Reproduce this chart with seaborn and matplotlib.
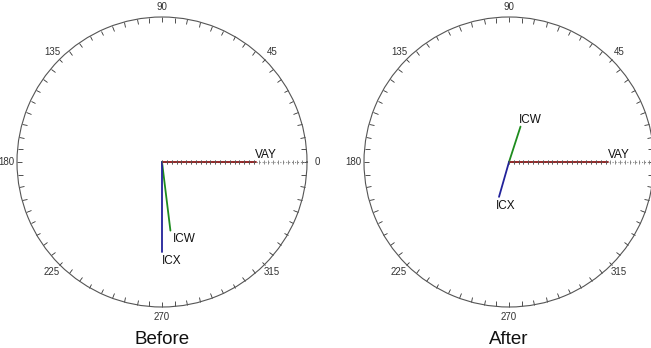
import numpy as np
import pandas as pd
import matplotlib
matplotlib.use("Agg")
import matplotlib.pyplot as plt
import seaborn as sns

sns.set_theme(style="white")
plt.rcParams['font.family'] = ['Liberation Sans', 'DejaVu Sans']

# ---- data (angle in degrees, magnitude on a 0..30 radial scale) ----
panels = ["Before", "After"]
labels = ["VAY", "ICW", "ICX"]
before_angle = [0, 277, 270]
before_mag = [19.5, 14.3, 18.6]
after_angle = [0, 72, 254]
after_mag = [20.4, 7.7, 7.5]
colors = ["#8b1a1a", "#1e8c1e", "#22229a"]
angle_ticks = [0, 45, 90, 135, 180, 225, 270, 315]
r_max = 30

# label offsets (points) for each panel
offsets = {
    "Before": {"VAY": ((-1, 0.5), "left", "bottom"),
               "ICW": ((1.5, -1.5), "left", "top"),
               "ICX": ((0, -2.5), "left", "top")},
    "After": {"VAY": ((0, 0.5), "left", "bottom"),
              "ICW": ((-1, 0.5), "left", "bottom"),
              "ICX": ((-2, -2.5), "left", "top")},
}

W, H = 651, 348
fig = plt.figure(figsize=(W / 100, H / 100), dpi=100)

centers = [(162, 162), (509, 162)]
R = 145

data = {"Before": (before_angle, before_mag), "After": (after_angle, after_mag)}

for (cx, cy), name in zip(centers, panels):
    ax = fig.add_axes([(cx - R) / W, (H - cy - R) / H, 2 * R / W, 2 * R / H],
                      projection="polar")
    ax.set_ylim(0, r_max)
    ax.grid(False)
    ax.set_yticks([])
    ax.set_xticks(np.deg2rad(angle_ticks))
    tick_text = [str(a) for a in angle_ticks]
    if name == "After":
        tick_text[0] = ""  # lies beyond the canvas edge in the reference
    ax.set_xticklabels(tick_text)
    ax.set_xticks(np.deg2rad(np.arange(0, 360, 5)), minor=True)
    ax.tick_params(axis="x", which="both", bottom=False, top=True,
                   labelbottom=True, labeltop=False,
                   direction="in", length=3.5,
                   width=0.6, color="#333333", pad=0.5,
                   labelsize=7, labelcolor="#333333")
    ax.spines["polar"].set_color("#555555")
    ax.spines["polar"].set_linewidth(0.8)
    ax.set_facecolor("white")

    # radial scale along 0 degrees
    scale_r = np.arange(0, r_max + 1)
    ax.plot(np.zeros_like(scale_r, dtype=float), scale_r, linestyle=":",
            color="#888888", lw=0.8, marker="|", markersize=2.5,
            markeredgewidth=0.6, markeredgecolor="#777777", zorder=2)

    angs, mags = data[name]
    for lab, a, m, c in zip(labels, angs, mags, colors):
        th = np.deg2rad(a)
        df = pd.DataFrame({"theta": [th, th], "r": [0.0, m]})
        sns.lineplot(data=df, x="theta", y="r", ax=ax, sort=False,
                     estimator=None, color=c, lw=1.3, zorder=3)
        if lab == "VAY":
            sr = scale_r[scale_r <= m]
            ax.plot(np.zeros_like(sr, dtype=float), sr, linestyle="none",
                    marker="|", markersize=3, markeredgewidth=0.6,
                    markeredgecolor="#555555", zorder=4)
        (dx, dy), ha, va = offsets[name][lab]
        ax.annotate(lab, xy=(th, m), xytext=(dx, dy), textcoords="offset points",
                    ha=ha, va=va, fontsize=8.5, color="#111111")
    ax.set_xlabel("")
    ax.set_ylabel("")
    ax.set_ylim(0, r_max)

    fig.text(cx / W, (H - 339) / H, name, ha="center", va="center",
             fontsize=13.5, color="#111111")

fig.savefig("out.png", dpi=100)
